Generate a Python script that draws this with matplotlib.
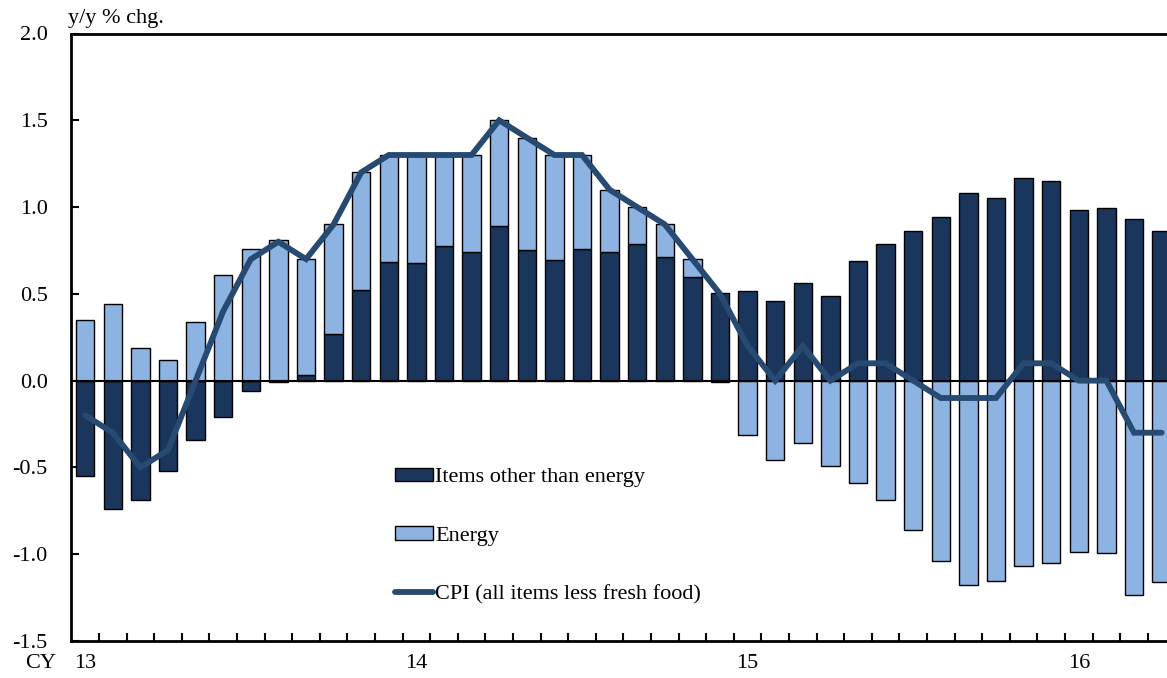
import matplotlib
matplotlib.use("Agg")
import matplotlib.pyplot as plt
import numpy as np

# Monthly data Jan 2013 - Apr 2016
months = list(range(40))
other = [-0.55, -0.74, -0.69, -0.52, -0.34, -0.21, -0.06, -0.01, 0.03, 0.27,
         0.52, 0.685, 0.68, 0.775, 0.74, 0.89, 0.75, 0.695, 0.76, 0.74,
         0.785, 0.71, 0.60, 0.505, 0.515, 0.46, 0.56, 0.49, 0.69, 0.785,
         0.86, 0.94, 1.08, 1.055, 1.17, 1.15, 0.985, 0.995, 0.93, 0.86]
energy = [0.35, 0.44, 0.19, 0.12, 0.34, 0.61, 0.76, 0.81, 0.67, 0.63,
          0.68, 0.615, 0.62, 0.525, 0.56, 0.61, 0.65, 0.605, 0.54, 0.36,
          0.215, 0.19, 0.10, -0.005, -0.315, -0.46, -0.36, -0.49, -0.59, -0.685,
          -0.86, -1.04, -1.18, -1.155, -1.07, -1.05, -0.985, -0.995, -1.235, -1.16]
cpi = [-0.2, -0.3, -0.5, -0.4, 0.0, 0.4, 0.7, 0.8, 0.7, 0.9,
       1.2, 1.3, 1.3, 1.3, 1.3, 1.5, 1.4, 1.3, 1.3, 1.1,
       1.0, 0.9, 0.7, 0.5, 0.2, 0.0, 0.2, 0.0, 0.1, 0.1,
       0.0, -0.1, -0.1, -0.1, 0.1, 0.1, 0.0, 0.0, -0.3, -0.3]
year_labels = ["13", "14", "15", "16"]
year_months = [0, 12, 24, 36]

dark = "#1a365d"
light = "#8db3e2"
line_c = "#264a72"

plt.rcParams['font.family'] = ['Liberation Serif', 'DejaVu Serif']
FS = 16

W, H = 1167, 678
fig = plt.figure(figsize=(W / 100, H / 100), dpi=100)
left_px, right_px, top_px, bot_px = 71.4, 1167, 33.5, 641
ax = fig.add_axes([left_px / W, 1 - bot_px / H, (right_px - left_px) / W, (bot_px - top_px) / H])

month_w_px = 27.6
xmax = (right_px - left_px) / month_w_px
ax.set_xlim(0, xmax)
ax.set_ylim(-1.5, 2.0)

x = np.array(months) + 0.5
other_a = np.array(other)
energy_a = np.array(energy)

# stacking: positives upward, negatives downward
pos_base = np.zeros(len(x))
neg_base = np.zeros(len(x))
o_bottom = np.where(other_a >= 0, pos_base, neg_base)
pos_base = pos_base + np.where(other_a >= 0, other_a, 0)
neg_base = neg_base + np.where(other_a < 0, other_a, 0)
e_bottom = np.where(energy_a >= 0, pos_base, neg_base)

bw = 18.3 / month_w_px
ax.bar(x, other_a, bottom=o_bottom, width=bw, color=dark, edgecolor='black',
       linewidth=1.0, label="Items other than energy", zorder=2)
ax.bar(x, energy_a, bottom=e_bottom, width=bw, color=light, edgecolor='black',
       linewidth=1.0, label="Energy", zorder=2)
ax.axhline(0, color='black', linewidth=1.5, zorder=3)
ax.plot(x, cpi, color=line_c, linewidth=4.2, solid_capstyle='round',
        solid_joinstyle='miter', label="CPI (all items less fresh food)", zorder=4)

ax.spines['right'].set_visible(False)
for s in ['left', 'bottom', 'top']:
    ax.spines[s].set_linewidth(2.0)

ax.set_yticks([-1.5, -1.0, -0.5, 0.0, 0.5, 1.0, 1.5, 2.0])
ax.set_yticklabels(["-1.5", "-1.0", "-0.5", "0.0", "0.5", "1.0", "1.5", "2.0"])
ax.tick_params(axis='y', direction='in', length=6, width=1.5, pad=17, labelsize=FS)

ax.set_xticks(np.arange(1, int(xmax) + 1), minor=True)
ax.set_xticks(np.array(year_months) + 0.5)
ax.set_xticklabels(year_labels)
ax.tick_params(axis='x', which='major', length=0, pad=9, labelsize=FS)
ax.tick_params(axis='x', which='minor', direction='in', length=6, width=1.5)

fig.text(25 / W, 1 - 663 / H, "CY", fontsize=FS, va='center', ha='left')
fig.text(68 / W, 1 - 19 / H, "y/y % chg.", fontsize=FS, va='center', ha='left')

h, l = ax.get_legend_handles_labels()
order = [1, 2, 0]
leg = ax.legend([h[i] for i in order], [l[i] for i in order], loc='upper left',
                bbox_to_anchor=((386 - left_px) / (right_px - left_px), (bot_px - 459) / (bot_px - top_px)),
                frameon=False, fontsize=FS, handlelength=1.7, handleheight=0.55,
                handletextpad=0.1, labelspacing=1.75, borderaxespad=0)

fig.savefig("out.png", dpi=100)
